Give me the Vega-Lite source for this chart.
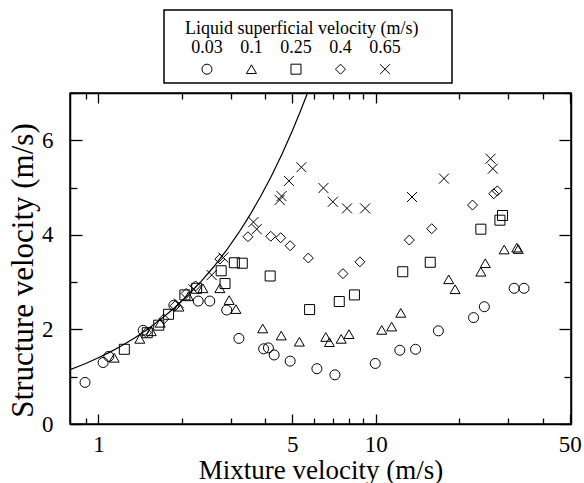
{
  "$schema": "https://vega.github.io/schema/vega-lite/v6.json",
  "padding": {"left": 6, "top": 9, "right": 2, "bottom": 2},
  "spacing": -3,
  "datasets": {
    "cats": [{"ul": "0.03"}, {"ul": "0.1"}, {"ul": "0.25"}, {"ul": "0.4"}, {"ul": "0.65"}],
    "ttl": [{"t": "Liquid superficial velocity (m/s)"}],
    "curve": [
      {"um": 0.79, "us": 1.15}, {"um": 0.85, "us": 1.22}, {"um": 0.9, "us": 1.28}, {"um": 1.0, "us": 1.4},
      {"um": 1.1, "us": 1.52}, {"um": 1.2, "us": 1.64}, {"um": 1.35, "us": 1.82}, {"um": 1.5, "us": 2.0},
      {"um": 1.7, "us": 2.24}, {"um": 1.9, "us": 2.48}, {"um": 2.1, "us": 2.72}, {"um": 2.35, "us": 3.02},
      {"um": 2.6, "us": 3.32}, {"um": 2.9, "us": 3.68}, {"um": 3.2, "us": 4.04}, {"um": 3.5, "us": 4.4},
      {"um": 3.85, "us": 4.82}, {"um": 4.2, "us": 5.24}, {"um": 4.6, "us": 5.72}, {"um": 5.0, "us": 6.2},
      {"um": 5.35, "us": 6.62}, {"um": 5.67, "us": 7.0}
    ],
    "pts": [
      {"ul": "0.03", "um": 0.895, "us": 0.88}, {"ul": "0.03", "um": 1.04, "us": 1.3}, {"ul": "0.03", "um": 1.09, "us": 1.43},
      {"ul": "0.03", "um": 1.45, "us": 1.98}, {"ul": "0.03", "um": 1.87, "us": 2.51}, {"ul": "0.03", "um": 2.29, "us": 2.6},
      {"ul": "0.03", "um": 2.52, "us": 2.6}, {"ul": "0.03", "um": 2.9, "us": 2.41}, {"ul": "0.03", "um": 3.21, "us": 1.81},
      {"ul": "0.03", "um": 3.94, "us": 1.59}, {"ul": "0.03", "um": 4.1, "us": 1.61}, {"ul": "0.03", "um": 4.3, "us": 1.46},
      {"ul": "0.03", "um": 4.91, "us": 1.33}, {"ul": "0.03", "um": 6.13, "us": 1.17}, {"ul": "0.03", "um": 7.12, "us": 1.04},
      {"ul": "0.03", "um": 9.95, "us": 1.28}, {"ul": "0.03", "um": 12.2, "us": 1.56}, {"ul": "0.03", "um": 13.9, "us": 1.58},
      {"ul": "0.03", "um": 16.8, "us": 1.97}, {"ul": "0.03", "um": 22.5, "us": 2.25}, {"ul": "0.03", "um": 24.6, "us": 2.48},
      {"ul": "0.03", "um": 31.5, "us": 2.87}, {"ul": "0.03", "um": 34.2, "us": 2.87},
      {"ul": "0.1", "um": 1.14, "us": 1.4}, {"ul": "0.1", "um": 1.41, "us": 1.8}, {"ul": "0.1", "um": 1.55, "us": 1.96},
      {"ul": "0.1", "um": 1.67, "us": 2.14}, {"ul": "0.1", "um": 1.95, "us": 2.48}, {"ul": "0.1", "um": 2.11, "us": 2.7},
      {"ul": "0.1", "um": 2.38, "us": 2.87}, {"ul": "0.1", "um": 2.74, "us": 2.87}, {"ul": "0.1", "um": 2.96, "us": 2.62},
      {"ul": "0.1", "um": 3.13, "us": 2.43}, {"ul": "0.1", "um": 3.91, "us": 2.02}, {"ul": "0.1", "um": 4.56, "us": 1.87},
      {"ul": "0.1", "um": 5.3, "us": 1.74}, {"ul": "0.1", "um": 6.6, "us": 1.84}, {"ul": "0.1", "um": 6.8, "us": 1.73},
      {"ul": "0.1", "um": 7.5, "us": 1.8}, {"ul": "0.1", "um": 8.0, "us": 1.9}, {"ul": "0.1", "um": 10.5, "us": 1.99},
      {"ul": "0.1", "um": 11.4, "us": 2.06}, {"ul": "0.1", "um": 12.3, "us": 2.35}, {"ul": "0.1", "um": 18.3, "us": 3.06},
      {"ul": "0.1", "um": 19.3, "us": 2.85}, {"ul": "0.1", "um": 23.9, "us": 3.22}, {"ul": "0.1", "um": 24.8, "us": 3.4},
      {"ul": "0.1", "um": 29.0, "us": 3.69}, {"ul": "0.1", "um": 32.2, "us": 3.73}, {"ul": "0.1", "um": 32.6, "us": 3.7},
      {"ul": "0.25", "um": 1.24, "us": 1.58}, {"ul": "0.25", "um": 1.5, "us": 1.93}, {"ul": "0.25", "um": 1.65, "us": 2.09},
      {"ul": "0.25", "um": 1.79, "us": 2.32}, {"ul": "0.25", "um": 2.05, "us": 2.73}, {"ul": "0.25", "um": 2.26, "us": 2.87},
      {"ul": "0.25", "um": 2.77, "us": 3.24}, {"ul": "0.25", "um": 2.86, "us": 2.97}, {"ul": "0.25", "um": 3.09, "us": 3.41},
      {"ul": "0.25", "um": 3.3, "us": 3.4}, {"ul": "0.25", "um": 4.16, "us": 3.13}, {"ul": "0.25", "um": 5.77, "us": 2.42},
      {"ul": "0.25", "um": 7.38, "us": 2.59}, {"ul": "0.25", "um": 8.37, "us": 2.73}, {"ul": "0.25", "um": 12.5, "us": 3.22},
      {"ul": "0.25", "um": 15.7, "us": 3.42}, {"ul": "0.25", "um": 23.9, "us": 4.12}, {"ul": "0.25", "um": 28.0, "us": 4.31},
      {"ul": "0.25", "um": 28.6, "us": 4.41},
      {"ul": "0.4", "um": 1.49, "us": 1.93}, {"ul": "0.4", "um": 1.72, "us": 2.22}, {"ul": "0.4", "um": 1.89, "us": 2.5},
      {"ul": "0.4", "um": 2.07, "us": 2.76}, {"ul": "0.4", "um": 2.24, "us": 2.92}, {"ul": "0.4", "um": 2.74, "us": 3.49},
      {"ul": "0.4", "um": 3.46, "us": 3.96}, {"ul": "0.4", "um": 4.18, "us": 3.97}, {"ul": "0.4", "um": 4.54, "us": 3.94},
      {"ul": "0.4", "um": 4.91, "us": 3.77}, {"ul": "0.4", "um": 5.71, "us": 3.51}, {"ul": "0.4", "um": 7.61, "us": 3.18},
      {"ul": "0.4", "um": 8.76, "us": 3.43}, {"ul": "0.4", "um": 13.2, "us": 3.89}, {"ul": "0.4", "um": 15.9, "us": 4.13},
      {"ul": "0.4", "um": 22.3, "us": 4.63}, {"ul": "0.4", "um": 26.6, "us": 4.87}, {"ul": "0.4", "um": 27.4, "us": 4.93},
      {"ul": "0.65", "um": 1.95, "us": 2.55}, {"ul": "0.65", "um": 2.2, "us": 2.85}, {"ul": "0.65", "um": 2.56, "us": 3.15},
      {"ul": "0.65", "um": 2.82, "us": 3.52}, {"ul": "0.65", "um": 3.62, "us": 4.27}, {"ul": "0.65", "um": 3.72, "us": 4.12},
      {"ul": "0.65", "um": 4.5, "us": 4.74}, {"ul": "0.65", "um": 4.57, "us": 4.82}, {"ul": "0.65", "um": 4.86, "us": 5.14},
      {"ul": "0.65", "um": 5.39, "us": 5.43}, {"ul": "0.65", "um": 6.47, "us": 4.99}, {"ul": "0.65", "um": 7.0, "us": 4.7},
      {"ul": "0.65", "um": 7.87, "us": 4.56}, {"ul": "0.65", "um": 9.15, "us": 4.56}, {"ul": "0.65", "um": 13.5, "us": 4.8},
      {"ul": "0.65", "um": 17.6, "us": 5.19}, {"ul": "0.65", "um": 25.9, "us": 5.61}, {"ul": "0.65", "um": 26.4, "us": 5.4}
    ]
  },
  "vconcat": [
    {
      "spacing": 10,
      "hconcat": [
        {
          "width": 83,
          "height": 73,
          "view": {"stroke": null},
          "data": {"values": [{"ul": "0.03"}]},
          "mark": {"type": "point", "opacity": 0},
          "encoding": {}
        },
        {
          "width": 288,
          "height": 73,
          "layer": [
            {
              "data": {"name": "ttl"},
              "mark": {"type": "text", "font": "Liberation Serif", "fontSize": 18, "align": "left", "dx": -22, "color": "black"},
              "encoding": {
                "x": {"datum": "0.03", "type": "ordinal", "scale": {"type": "band", "domain": ["0.03", "0.1", "0.25", "0.4", "0.65"], "paddingInner": 0.53, "paddingOuter": 1, "align": 0.365}, "axis": null},
                "y": {"datum": "title", "type": "ordinal", "scale": {"type": "point", "domain": ["title", "label", "symbol"], "padding": 0.82, "align": 0.58}, "axis": null},
                "text": {"field": "t"}
              }
            },
            {
              "data": {"name": "cats"},
              "mark": {"type": "text", "font": "Liberation Serif", "fontSize": 18, "align": "center", "dy": -1, "color": "black"},
              "encoding": {
                "x": {"field": "ul", "type": "ordinal", "axis": null},
                "y": {"datum": "label", "type": "ordinal", "axis": null},
                "text": {"field": "ul"}
              }
            },
            {
              "data": {"name": "cats"},
              "mark": {"type": "point", "filled": false, "stroke": "black", "strokeWidth": 1, "size": 100, "opacity": 1},
              "encoding": {
                "x": {"field": "ul", "type": "ordinal", "axis": null},
                "y": {"datum": "symbol", "type": "ordinal", "axis": null},
                "shape": {"field": "ul", "type": "nominal", "scale": {"domain": ["0.03", "0.1", "0.25", "0.4", "0.65"], "range": ["circle", "triangle-up", "square", "diamond", "M-1,-1L1,1M-1,1L1,-1"]}, "legend": null}
              }
            }
          ]
        }
      ]
    },
    {
      "width": 501,
      "height": 331,
      "layer": [
        {
          "data": {"name": "curve"},
          "mark": {"type": "line", "color": "black", "strokeWidth": 1.2, "clip": true},
          "encoding": {
            "x": {"field": "um", "type": "quantitative", "scale": {"type": "log", "domain": [0.79, 50.5], "nice": false},
                  "axis": {"orient": "top", "title": null, "labels": false, "values": [0.9, 1, 2, 3, 4, 5, 6, 7, 8, 9, 10, 20, 30, 40, 50],
                           "tickSize": {"condition": {"test": "indexof([1,5,10,50], datum.value) >= 0", "value": -10}, "value": -6}}},
            "y": {"field": "us", "type": "quantitative", "scale": {"domain": [0, 7], "nice": false},
                  "axis": {"orient": "right", "title": null, "labels": false, "values": [0, 1, 2, 3, 4, 5, 6, 7],
                           "tickSize": {"condition": {"test": "datum.value % 2 == 0", "value": -12}, "value": -7}}}
          }
        },
        {
          "data": {"name": "pts"},
          "mark": {"type": "point", "filled": false, "stroke": "black", "strokeWidth": 1, "size": 100, "opacity": 1},
          "encoding": {
            "x": {"field": "um", "type": "quantitative",
                  "axis": {"orient": "bottom", "title": "Mixture velocity (m/s)", "values": [0.9, 1, 2, 3, 4, 5, 6, 7, 8, 9, 10, 20, 30, 40, 50],
                           "labelExpr": "indexof([1,5,10,50], datum.value) >= 0 ? datum.value + '' : ''",
                           "tickSize": {"condition": {"test": "indexof([1,5,10,50], datum.value) >= 0", "value": -10}, "value": -6},
                           "labelPadding": 19, "titlePadding": -3, "titleFontSize": 27}},
            "y": {"field": "us", "type": "quantitative",
                  "axis": {"orient": "left", "title": "Structure velocity (m/s)", "values": [0, 1, 2, 3, 4, 5, 6, 7],
                           "labelExpr": "datum.value % 2 == 0 ? datum.label : ''",
                           "tickSize": {"condition": {"test": "datum.value % 2 == 0", "value": -12}, "value": -7},
                           "labelPadding": 29, "titlePadding": 2, "titleFontSize": 31, "titleY": 177}},
            "shape": {"field": "ul", "type": "nominal", "scale": {"domain": ["0.03", "0.1", "0.25", "0.4", "0.65"], "range": ["circle", "triangle-up", "square", "diamond", "M-1,-1L1,1M-1,1L1,-1"]}, "legend": null}
          }
        }
      ],
      "resolve": {"axis": {"x": "independent", "y": "independent"}}
    }
  ],
  "config": {
    "view": {"stroke": "black", "strokeWidth": 1.5},
    "font": "Liberation Serif",
    "axis": {
      "grid": false, "domainColor": "black", "domainWidth": 1.5, "tickColor": "black", "tickWidth": 1.3,
      "labelFont": "Liberation Serif", "labelFontSize": 23, "labelColor": "black",
      "titleFont": "Liberation Serif", "titleFontSize": 29, "titleFontWeight": "normal", "titleColor": "black",
      "labelFlush": false, "labelOverlap": false
    }
  }
}
